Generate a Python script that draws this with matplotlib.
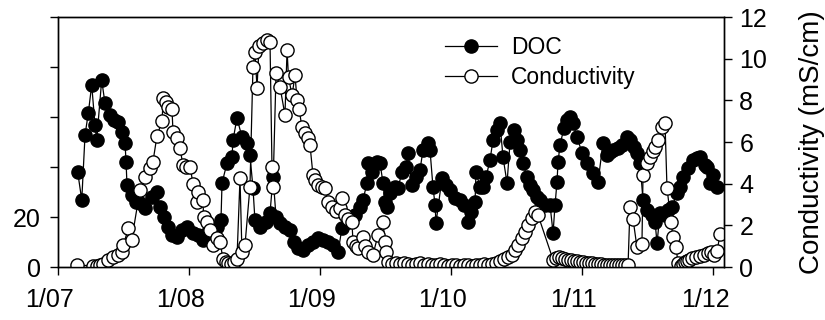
import matplotlib
matplotlib.use("Agg")
import matplotlib.pyplot as plt
from matplotlib.transforms import ScaledTranslation

plt.rcParams["font.family"] = ["Liberation Sans", "DejaVu Sans"]

# time in decimal years
doc_t = [2007.154, 2007.185, 2007.210, 2007.235, 2007.261, 2007.286, 2007.299, 2007.337, 2007.362, 2007.400,
         2007.431, 2007.461, 2007.490, 2007.515, 2007.523, 2007.530, 2007.566, 2007.599, 2007.629, 2007.667,
         2007.721, 2007.759, 2007.782, 2007.812, 2007.843, 2007.873, 2007.912, 2007.950, 2007.988, 2008.034,
         2008.072, 2008.110, 2008.148, 2008.178, 2008.217, 2008.247, 2008.255, 2008.293, 2008.331, 2008.339,
         2008.369, 2008.407, 2008.445, 2008.468, 2008.491, 2008.506, 2008.545, 2008.590, 2008.621, 2008.644,
         2008.667, 2008.697, 2008.735, 2008.773, 2008.804, 2008.834, 2008.873, 2008.911, 2008.949, 2008.987,
         2009.025, 2009.063, 2009.101, 2009.140, 2009.170, 2009.216, 2009.269, 2009.307, 2009.330, 2009.361,
         2009.368, 2009.399, 2009.437, 2009.460, 2009.483, 2009.498, 2009.513, 2009.536, 2009.574, 2009.597,
         2009.628, 2009.658, 2009.674, 2009.704, 2009.735, 2009.765, 2009.788, 2009.826, 2009.841, 2009.864,
         2009.880, 2009.887, 2009.933, 2009.963, 2009.994, 2010.032, 2010.070, 2010.101, 2010.131, 2010.154,
         2010.185, 2010.192, 2010.223, 2010.246, 2010.269, 2010.299, 2010.322, 2010.352, 2010.375, 2010.398,
         2010.429, 2010.452, 2010.482, 2010.505, 2010.528, 2010.551, 2010.581, 2010.604, 2010.627, 2010.658,
         2010.680, 2010.719, 2010.757, 2010.780, 2010.795, 2010.810, 2010.818, 2010.833, 2010.863, 2010.886,
         2010.909, 2010.932, 2010.963, 2011.001, 2011.039, 2011.085, 2011.123, 2011.161, 2011.191, 2011.214,
         2011.237, 2011.275, 2011.306, 2011.344, 2011.367, 2011.397, 2011.420, 2011.443, 2011.466, 2011.497,
         2011.535, 2011.558, 2011.573, 2011.596, 2011.634, 2011.657, 2011.687, 2011.725, 2011.748, 2011.771,
         2011.809, 2011.847, 2011.878, 2011.901, 2011.939, 2011.954, 2011.977, 2012.000, 2012.031]
doc = [38, 26.8, 52.8, 61.6, 72.8, 56.8, 50.8, 74.8, 65.6, 60.8,
       59, 58, 54, 49.6, 42, 32.8, 28.8, 26, 25.6, 23.6,
       28, 30, 24, 20, 16, 13, 12, 15, 16, 13.6,
       12.8, 10.8, 14, 12.8, 16, 18.8, 33.6, 41.6, 44, 50.8,
       59.6, 52, 49.6, 44.8, 31.6, 18.8, 16, 18, 21.6, 36,
       20, 17.6, 16, 14.8, 10, 7.6, 7, 8.8, 10, 11.6,
       10.8, 10, 8.8, 6, 15.6, 18, 20.8, 24, 26.8, 33.6,
       41.6, 38, 42, 41.6, 33.6, 26, 24, 29.6, 32, 31.6,
       38, 40, 45.6, 32.8, 36, 38.8, 46.8, 49.6, 47, 32,
       24.8, 17.6, 35.6, 33, 30.8, 27.6, 26.8, 24.8, 18, 22,
       26, 38, 32, 32, 36, 42.8, 50.8, 55, 57.6, 44,
       33.6, 50, 54.8, 50.8, 46.8, 41.6, 36, 33, 30.8, 28,
       26.8, 24.8, 24.8, 13.6, 24.8, 34, 42, 48.8, 55.6, 58.8,
       60, 57.6, 52, 45.6, 41.6, 37.6, 34, 49.6, 44.8, 46,
       46.8, 47.6, 49, 52, 50.8, 48, 45.6, 41.6, 26.8, 22.8,
       20.8, 18, 9.6, 21.6, 20.8, 22.8, 24, 29.6, 32, 36,
       39.6, 42.8, 43.6, 44, 40.8, 40, 33.6, 36.8, 32]

cond_t = [2007.146, 2007.273, 2007.299, 2007.324, 2007.349, 2007.387, 2007.426, 2007.461, 2007.490, 2007.502,
          2007.540, 2007.566, 2007.629, 2007.667, 2007.706, 2007.728, 2007.759, 2007.797, 2007.807, 2007.828,
          2007.843, 2007.873, 2007.881, 2007.912, 2007.934, 2007.957, 2007.980, 2008.011, 2008.034, 2008.064,
          2008.072, 2008.110, 2008.114, 2008.140, 2008.163, 2008.186, 2008.217, 2008.240, 2008.262, 2008.285,
          2008.301, 2008.323, 2008.346, 2008.369, 2008.392, 2008.407, 2008.430, 2008.468, 2008.491, 2008.506,
          2008.522, 2008.537, 2008.568, 2008.598, 2008.621, 2008.636, 2008.644, 2008.667, 2008.697, 2008.735,
          2008.751, 2008.762, 2008.789, 2008.812, 2008.827, 2008.842, 2008.865, 2008.888, 2008.911, 2008.926,
          2008.949, 2008.964, 2008.987, 2009.018, 2009.040, 2009.063, 2009.094, 2009.124, 2009.155, 2009.170,
          2009.193, 2009.216, 2009.246, 2009.254, 2009.277, 2009.292, 2009.330, 2009.346, 2009.368, 2009.407,
          2009.445, 2009.483, 2009.498, 2009.506, 2009.521, 2009.551, 2009.582, 2009.612, 2009.643, 2009.674,
          2009.704, 2009.735, 2009.765, 2009.796, 2009.826, 2009.857, 2009.887, 2009.918, 2009.948, 2009.979,
          2010.009, 2010.040, 2010.070, 2010.101, 2010.131, 2010.162, 2010.192, 2010.223, 2010.253, 2010.284,
          2010.314, 2010.345, 2010.375, 2010.406, 2010.436, 2010.467, 2010.490, 2010.513, 2010.543, 2010.566,
          2010.589, 2010.620, 2010.643, 2010.665, 2010.780, 2010.802, 2010.825, 2010.848, 2010.871, 2010.894,
          2010.917, 2010.940, 2010.963, 2010.986, 2011.009, 2011.032, 2011.054, 2011.077, 2011.100, 2011.123,
          2011.146, 2011.169, 2011.191, 2011.214, 2011.237, 2011.260, 2011.283, 2011.306, 2011.329, 2011.352,
          2011.367, 2011.390, 2011.420, 2011.458, 2011.466, 2011.497, 2011.520, 2011.542, 2011.558, 2011.581,
          2011.611, 2011.634, 2011.649, 2011.680, 2011.695, 2011.718, 2011.733, 2011.756, 2011.771, 2011.786,
          2011.802, 2011.817, 2011.840, 2011.870, 2011.901, 2011.931, 2011.962, 2011.985, 2012.008, 2012.031,
          2012.054]
cond = [0.1, 0.05, 0.05, 0.1, 0.15, 0.35, 0.5, 0.6, 0.7, 1.05,
        1.85, 1.3, 3.7, 4.3, 4.75, 5.05, 6.3, 7.0, 8.1, 7.9,
        7.7, 7.6, 6.5, 6.2, 5.7, 4.9, 4.8, 4.8, 4.0, 3.1,
        3.6, 3.2, 2.4, 2.15, 1.8, 1.05, 1.4, 1.2, 0.4, 0.25,
        0.2, 0.15, 0.25, 0.4, 4.25, 0.7, 1.05, 3.85, 9.6, 10.3,
        8.6, 10.6, 10.75, 10.9, 10.8, 4.8, 3.85, 9.3, 8.65, 7.3,
        10.4, 9.1, 8.25, 9.2, 8.0, 7.6, 6.7, 6.45, 6.2, 5.85,
        4.4, 4.2, 3.95, 3.85, 3.8, 3.1, 2.9, 2.7, 2.85, 3.3,
        2.5, 2.3, 2.15, 1.2, 1.0, 0.9, 1.45, 1.0, 0.7, 0.6,
        1.55, 2.15, 1.2, 0.7, 0.25, 0.15, 0.2, 0.15, 0.2, 0.15,
        0.1, 0.15, 0.2, 0.1, 0.15, 0.1, 0.1, 0.15, 0.1, 0.05,
        0.1, 0.1, 0.05, 0.1, 0.1, 0.05, 0.1, 0.1, 0.15, 0.1,
        0.15, 0.2, 0.3, 0.4, 0.5, 0.6, 0.8, 1.05, 1.4, 1.7,
        2.0, 2.35, 2.65, 2.5, 0.35, 0.45, 0.5, 0.45, 0.4, 0.35,
        0.35, 0.3, 0.3, 0.25, 0.25, 0.2, 0.2, 0.2, 0.15, 0.15,
        0.15, 0.1, 0.1, 0.1, 0.1, 0.1, 0.1, 0.1, 0.1, 0.1,
        2.9, 2.3, 0.95, 1.1, 4.4, 5.0, 5.3, 5.55, 5.75, 6.1,
        6.7, 6.9, 3.8, 2.15, 1.45, 0.95, 0.2, 0.05, 0.15, 0.25,
        0.3, 0.35, 0.45, 0.5, 0.55, 0.6, 0.65, 0.7, 0.6, 0.75,
        1.6]

year_ticks = [2007, 2008, 2009, 2010, 2011, 2012]
year_labels = ["1/07", "1/08", "1/09", "1/10", "1/11", "1/12"]

fig = plt.figure(figsize=(8.25, 3.2), dpi=100)
ax = fig.add_axes([0.0697, 0.1656, 0.8079, 0.78125])
ax2 = ax.twinx()

l1, = ax.plot(doc_t, doc, "-o", color="black", lw=0.9, ms=9.5,
              mfc="black", mec="black", mew=1, label="DOC")
l2, = ax2.plot(cond_t, cond, "-o", color="black", lw=0.9, ms=9.5,
               mfc="white", mec="black", mew=1, label="Conductivity")

ax.set_xlim(2007.0, 2012.084)
ax.set_ylim(0, 100)
ax2.set_ylim(0, 12)
ax.set_xticks(year_ticks)
ax.set_xticklabels(year_labels)
ax.set_yticks([0, 20, 40, 60, 80, 100])
ax.set_yticklabels(["0", "20", "", "", "", ""])
ax2.set_yticks([0, 2, 4, 6, 8, 10, 12])
ax2.set_ylabel("Conductivity (mS/cm)", fontsize=20, labelpad=23)

for a in (ax, ax2):
    for s in a.spines.values():
        s.set_linewidth(1.0)
ax.tick_params(axis="both", direction="out", length=6, width=1, labelsize=18)
ax.tick_params(axis="x", pad=9)
ax.tick_params(axis="y", pad=6)
ax2.tick_params(axis="y", direction="out", length=6, width=1, labelsize=18, pad=5)

# the date labels sit a little left of their ticks in the original
shift = ScaledTranslation(-0.08, 0, fig.dpi_scale_trans)
for lab in ax.get_xticklabels():
    lab.set_transform(lab.get_transform() + shift)

ax.legend([l1, l2], ["DOC", "Conductivity"], loc="upper left",
          bbox_to_anchor=(0.581, 0.925), frameon=False, fontsize=16.5,
          borderpad=0, borderaxespad=0, handlelength=2.3,
          handletextpad=0.6, labelspacing=0.3)

fig.savefig("out.png", dpi=100)
